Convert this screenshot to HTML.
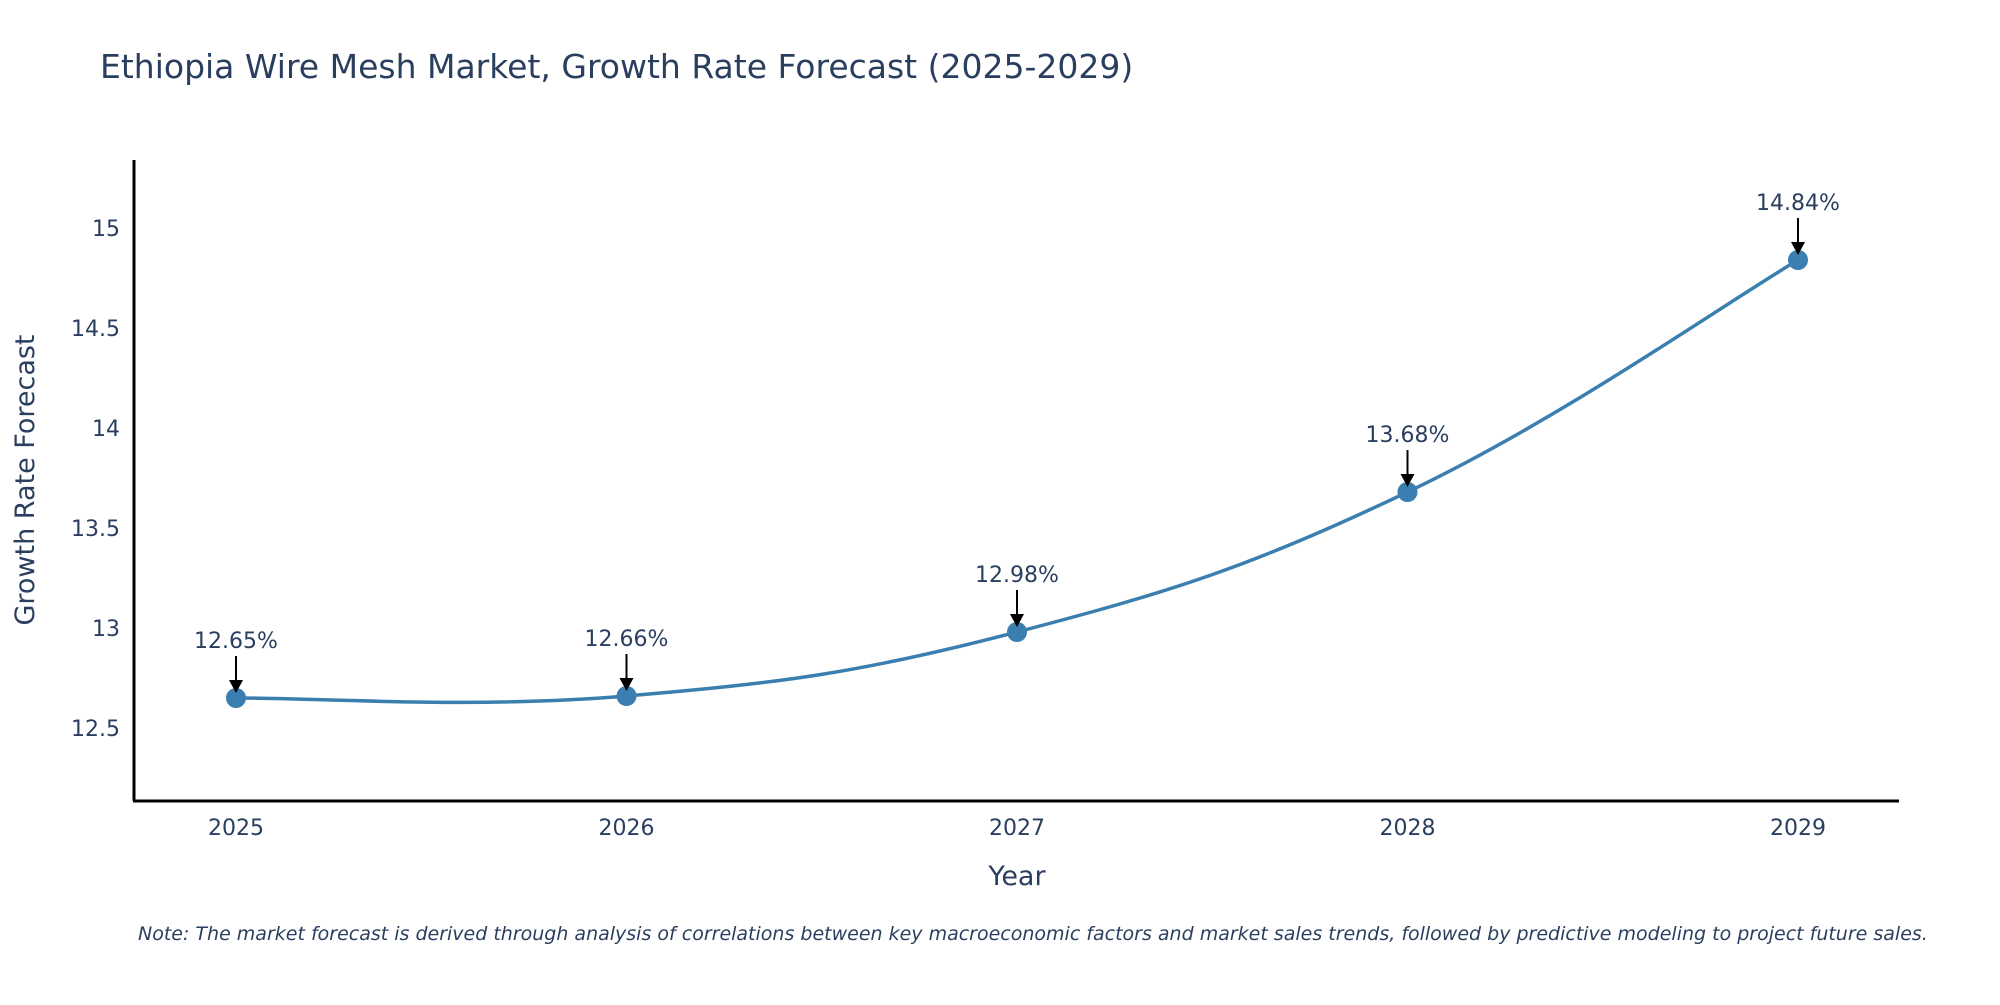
<!DOCTYPE html>
<html><head><meta charset="utf-8"><style>
body{margin:0;background:#fff;}
svg text{font-family:"DejaVu Sans","Liberation Sans",sans-serif;fill:#2a3f5f;}
</style></head><body>
<svg id="chart" width="2000" height="1000">
<text x="100" y="78" font-size="33">Ethiopia Wire Mesh Market, Growth Rate Forecast (2025-2029)</text>
<line x1="134" y1="160" x2="134" y2="801" stroke="#000" stroke-width="3"/>
<line x1="133" y1="801" x2="1899" y2="801" stroke="#000" stroke-width="3"/>
<g id="yticks"></g><g id="xticks"></g>
<path id="line" fill="none" stroke="#3a7fb0" stroke-width="3.5"/>
<g id="points"></g><g id="annos"></g>
<text transform="translate(34,480) rotate(-90)" text-anchor="middle" font-size="27">Growth Rate Forecast</text>
<text x="1017" y="885" text-anchor="middle" font-size="27">Year</text>
<text x="138" y="940" font-size="19" font-style="italic">Note: The market forecast is derived through analysis of correlations between key macroeconomic factors and market sales trends, followed by predictive modeling to project future sales.</text>
</svg>
<script>
const years=[2025,2026,2027,2028,2029];
const values=[12.65,12.66,12.98,13.68,14.84];
const labels=["12.65%","12.66%","12.98%","13.68%","14.84%"];
const yTicks=[12.5,13,13.5,14,14.5,15];
const yTickLabels=["12.5","13","13.5","14","14.5","15"];
const NS="http://www.w3.org/2000/svg";
const xs=i=>236+i*390.5;
const ys=v=>728-(v-12.5)*200;
function mk(t,a,p){const e=document.createElementNS(NS,t);for(const k in a)e.setAttribute(k,a[k]);p.appendChild(e);return e;}
const yt=document.getElementById('yticks');
yTicks.forEach((v,i)=>{const t=mk('text',{x:120,y:ys(v)+8,'text-anchor':'end','font-size':22},yt);t.textContent=yTickLabels[i];

});
const xt=document.getElementById('xticks');
years.forEach((y,i)=>{const t=mk('text',{x:xs(i),y:835,'text-anchor':'middle','font-size':22},xt);t.textContent=y;

});
const P=values.map((v,i)=>[xs(i),ys(v)]);
let d='M'+P[0][0]+','+P[0][1];
for(let i=0;i<P.length-1;i++){const p0=P[Math.max(0,i-1)],p1=P[i],p2=P[i+1],p3=P[Math.min(P.length-1,i+2)];const s=5;
d+=` C${p1[0]+(p2[0]-p0[0])/s},${p1[1]+(p2[1]-p0[1])/s} ${p2[0]-(p3[0]-p1[0])/s},${p2[1]-(p3[1]-p1[1])/s} ${p2[0]},${p2[1]}`;}
document.getElementById('line').setAttribute('d',d);
const pts=document.getElementById('points'),an=document.getElementById('annos');
P.forEach((p,i)=>{const c=mk('circle',{cx:p[0],cy:p[1],r:10,fill:'#3a7fb0'},pts);


const l=mk('line',{x1:p[0],y1:p[1]-42,x2:p[0],y2:p[1]-16,stroke:'#000','stroke-width':2},an);


const h=mk('polygon',{points:`${p[0]-7},${p[1]-18} ${p[0]+7},${p[1]-18} ${p[0]},${p[1]-5}`,fill:'#000'},an);


const t=mk('text',{x:p[0],y:p[1]-50,'text-anchor':'middle','font-size':22},an);t.textContent=labels[i];

});
</script>
</body></html>
